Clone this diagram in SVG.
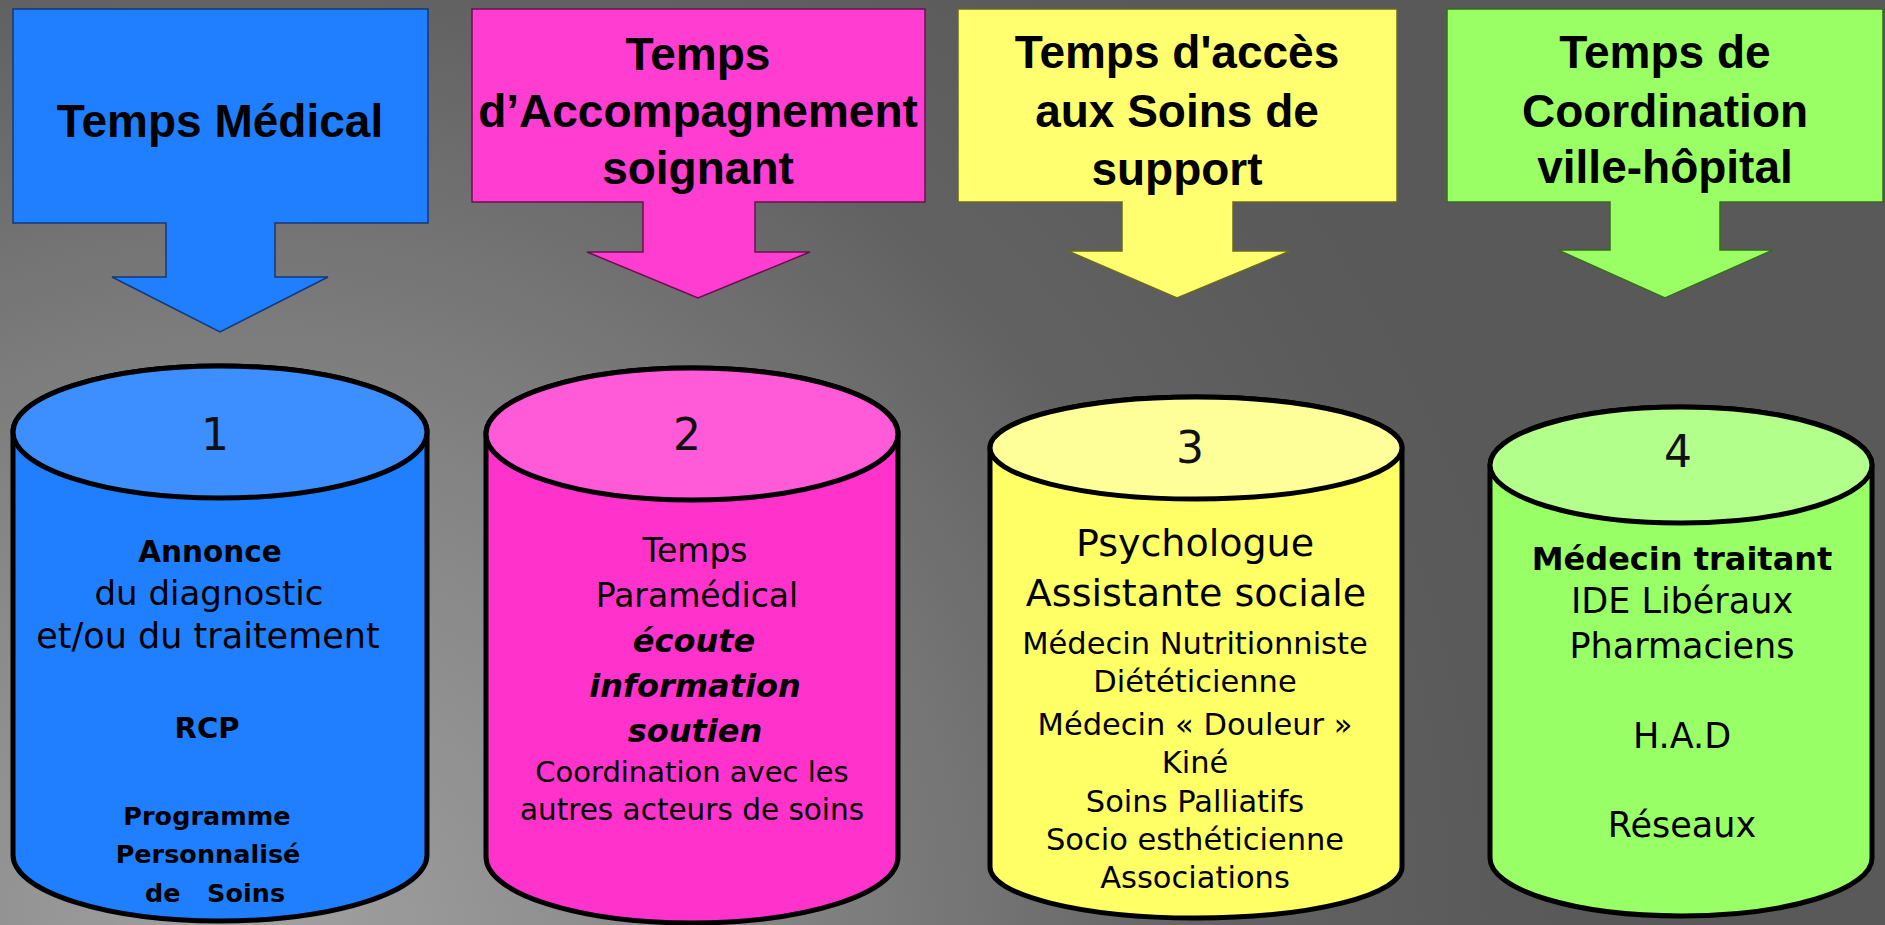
<svg xmlns="http://www.w3.org/2000/svg" width="1885" height="925" viewBox="0 0 1885 925">
  <defs>
    <radialGradient id="bg" gradientUnits="userSpaceOnUse" cx="250" cy="960" r="1300">
      <stop offset="0" stop-color="#a2a2a2"/>
      <stop offset="0.4" stop-color="#848484"/>
      <stop offset="0.75" stop-color="#626262"/>
      <stop offset="1" stop-color="#595959"/>
    </radialGradient>
  </defs>
  <style>
    .callout { stroke-width: 1.5; stroke-linejoin: miter; }
    .title { font-family: "Liberation Sans", Arial, sans-serif; font-weight: bold; font-size: 46px; fill: #000; text-anchor: middle; }
    .cyl { stroke: #000; stroke-width: 5; stroke-linejoin: round; }
    .txt { font-family: "DejaVu Sans", sans-serif; fill: #000; text-anchor: middle; white-space: pre; }
    .b { font-weight: bold; }
    .bi { font-weight: bold; font-style: italic; }
    .num { font-family: "DejaVu Sans", sans-serif; font-size: 44px; fill: #111; text-anchor: middle; }
  </style>

  <!-- backdrop -->
  <rect x="0" y="0" width="1885" height="925" fill="url(#bg)"/>

  <!-- headline callouts: box with a down arrow -->
  <g id="callout-medical">
    <path class="callout" fill="#1f7fff" stroke="#123a78" d="M13,9 H428 V223 H275 V277 H328 L220,332 L112,277 H166 V223 H13 Z"/>
    <text class="title" x="220" y="137">Temps Médical</text>
  </g>
  <g id="callout-accompagnement">
    <path class="callout" fill="#ff3dd0" stroke="#6a1050" d="M472,9 H925 V202 H755 V252 H810 L698,298 L587,252 H643 V202 H472 Z"/>
    <text class="title" x="698" y="70">Temps</text>
    <text class="title" x="698" y="127">d’Accompagnement</text>
    <text class="title" x="698" y="184">soignant</text>
  </g>
  <g id="callout-support">
    <path class="callout" fill="#ffff70" stroke="#6a6a20" d="M958,9 H1397 V202 H1233 V251 H1290 L1177,298 L1068,251 H1122 V202 H958 Z"/>
    <text class="title" x="1177" y="68">Temps d'accès</text>
    <text class="title" x="1177" y="127">aux Soins de</text>
    <text class="title" x="1177" y="185">support</text>
  </g>
  <g id="callout-coordination">
    <path class="callout" fill="#9aff64" stroke="#3a6a20" d="M1447,9 H1883 V202 H1720 V250 H1773 L1665,298 L1558,250 H1610 V202 H1447 Z"/>
    <text class="title" x="1665" y="68">Temps de</text>
    <text class="title" x="1665" y="127">Coordination</text>
    <text class="title" x="1665" y="183">ville-hôpital</text>
  </g>

  <!-- cylinder 1 -->
  <g id="cylinder-1">
    <path class="cyl" fill="#1f7fff" d="M13,432 V855 A207,66 0 0 0 427,855 V432 A207,66 0 0 0 13,432 Z"/>
    <ellipse class="cyl" fill="#3d8fff" cx="220" cy="432" rx="207" ry="66"/>
    <text class="num" x="215" y="450">1</text>
    <text class="txt b" x="210" y="562" font-size="29.5">Annonce</text>
    <text class="txt" x="209" y="605" font-size="34">du diagnostic</text>
    <text class="txt" x="208" y="648" font-size="35">et/ou du traitement</text>
    <text class="txt b" x="207" y="738" font-size="29">RCP</text>
    <text class="txt b" x="207" y="825" font-size="25.5">Programme</text>
    <text class="txt b" x="208" y="863" font-size="25.5">Personnalisé</text>
    <text class="txt b" x="215" y="902" font-size="25.5">de   Soins</text>
  </g>

  <!-- cylinder 2 -->
  <g id="cylinder-2">
    <path class="cyl" fill="#ff33cc" d="M486,434 V857 A206,66 0 0 0 898,857 V434 A206,66 0 0 0 486,434 Z"/>
    <ellipse class="cyl" fill="#ff5ad8" cx="692" cy="434" rx="206" ry="66"/>
    <text class="num" x="687" y="450">2</text>
    <text class="txt" x="695" y="562" font-size="33">Temps</text>
    <text class="txt" x="697" y="607" font-size="33">Paramédical</text>
    <text class="txt bi" x="694" y="652" font-size="32">écoute</text>
    <text class="txt bi" x="695" y="697" font-size="32">information</text>
    <text class="txt bi" x="695" y="742" font-size="32">soutien</text>
    <text class="txt" x="692" y="782" font-size="29">Coordination avec les</text>
    <text class="txt" x="692" y="820" font-size="29.5">autres acteurs de soins</text>
  </g>

  <!-- cylinder 3 -->
  <g id="cylinder-3">
    <path class="cyl" fill="#ffff66" d="M990,448 V867 A206,51 0 0 0 1402,867 V448 A206,51 0 0 0 990,448 Z"/>
    <ellipse class="cyl" fill="#ffff99" cx="1196" cy="448" rx="206" ry="51"/>
    <text class="num" x="1190" y="463">3</text>
    <text class="txt" x="1195" y="556" font-size="38">Psychologue</text>
    <text class="txt" x="1196" y="606" font-size="38">Assistante sociale</text>
    <text class="txt" x="1195" y="654" font-size="30.5">Médecin Nutritionniste</text>
    <text class="txt" x="1195" y="692" font-size="30.5">Diététicienne</text>
    <text class="txt" x="1195" y="735" font-size="30.5">Médecin « Douleur »</text>
    <text class="txt" x="1195" y="773" font-size="30.5">Kiné</text>
    <text class="txt" x="1195" y="812" font-size="30.5">Soins Palliatifs</text>
    <text class="txt" x="1195" y="850" font-size="30.5">Socio esthéticienne</text>
    <text class="txt" x="1195" y="888" font-size="30.5">Associations</text>
  </g>

  <!-- cylinder 4 -->
  <g id="cylinder-4">
    <path class="cyl" fill="#99ff66" d="M1490,465 V858 A191,58 0 0 0 1872,858 V465 A191,58 0 0 0 1490,465 Z"/>
    <ellipse class="cyl" fill="#b3ff8c" cx="1681" cy="465" rx="191" ry="58"/>
    <text class="num" x="1678" y="467">4</text>
    <text class="txt b" x="1682" y="570" font-size="32">Médecin traitant</text>
    <text class="txt" x="1682" y="613" font-size="35">IDE Libéraux</text>
    <text class="txt" x="1682" y="658" font-size="35">Pharmaciens</text>
    <text class="txt" x="1682" y="748" font-size="35">H.A.D</text>
    <text class="txt" x="1682" y="837" font-size="35">Réseaux</text>
  </g>
</svg>
